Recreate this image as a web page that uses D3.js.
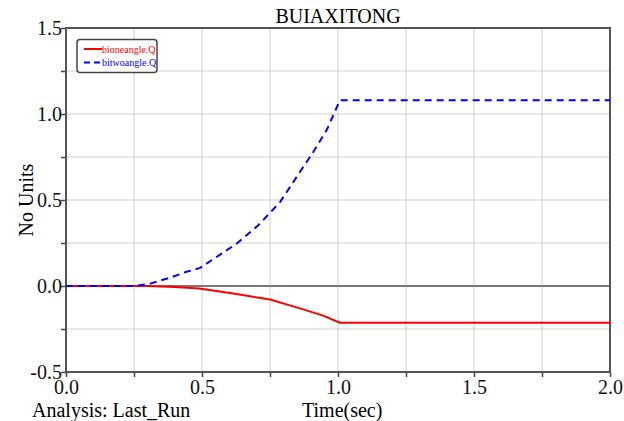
<!DOCTYPE html>
<html>
<head>
<meta charset="utf-8">
<script src="https://cdn.jsdelivr.net/npm/d3@7"></script>
<style>
  body { margin: 0; background: #fff; }
  svg text { font-family: "Liberation Serif", "DejaVu Serif", serif; }
</style>
</head>
<body>
<script>
  // values
  const xTicks = [0, 0.5, 1.0, 1.5, 2.0];
  const yTicks = [-0.5, 0, 0.5, 1.0, 1.5];

  const oneTime = [0, 0.30, 0.40, 0.49, 0.615, 0.75, 0.86, 0.945, 1.007, 2.0];
  const oneVal  = [0, 0, -0.006, -0.015, -0.044, -0.079, -0.130, -0.172, -0.213, -0.213];

  const twoTime = [0, 0.25, 0.31, 0.39, 0.44, 0.493, 0.627, 0.707, 0.787, 0.86, 0.909, 0.958, 1.007, 2.0];
  const twoVal  = [0, 0, 0.014, 0.052, 0.081, 0.105, 0.246, 0.353, 0.488, 0.663, 0.779, 0.905, 1.08, 1.08];

  const seriesNames = ['bioneangle.Q', 'bitwoangle.Q'];

  const w = 624, h = 421;
  const pLeft = 66, pRight = 610, pTop = 28, pBottom = 372;

  const x = d3.scaleLinear().domain([0, 2]).range([pLeft, pRight]);
  const y = d3.scaleLinear().domain([-0.5, 1.5]).range([pBottom, pTop]);

  const svg = d3.select('body').append('svg')
    .attr('width', w).attr('height', h);

  // grid
  const grid = d3.range(0, 2.001, 0.25);
  const gridY = d3.range(-0.5, 1.501, 0.25);
  svg.append('g').selectAll('line').data(grid).enter().append('line')
    .attr('x1', d => x(d)).attr('x2', d => x(d))
    .attr('y1', pTop).attr('y2', pBottom)
    .attr('stroke', '#cfcfcf').attr('stroke-width', 1);
  svg.append('g').selectAll('line').data(gridY).enter().append('line')
    .attr('x1', pLeft).attr('x2', pRight)
    .attr('y1', d => y(d)).attr('y2', d => y(d))
    .attr('stroke', '#cfcfcf').attr('stroke-width', 1);

  // zero line
  svg.append('line')
    .attr('x1', pLeft).attr('x2', pRight)
    .attr('y1', y(0)).attr('y2', y(0))
    .attr('stroke', '#555').attr('stroke-width', 1.5);

  // axes
  const isMajor = (list, d) => list.some(v => Math.abs(v - d) < 1e-9);
  const xAxis = d3.axisBottom(x).tickValues(grid).tickSize(5)
    .tickFormat(d => isMajor(xTicks, d) ? d.toFixed(1) : '');
  const yAxis = d3.axisLeft(y).tickValues(gridY).tickSize(5)
    .tickFormat(d => isMajor(yTicks, d) ? d.toFixed(1) : '');

  svg.append('g').attr('class', 'x-axis')
    .attr('transform', `translate(0,${pBottom})`)
    .call(xAxis);
  svg.append('g').attr('class', 'y-axis')
    .attr('transform', `translate(${pLeft},0)`)
    .call(yAxis);

  d3.selectAll('.domain').remove();
  d3.selectAll('.tick line').attr('stroke', '#444').attr('stroke-width', 1.5);
  d3.selectAll('.tick text').attr('font-size', 20).attr('fill', '#111')
    .style('font-family', '"Liberation Serif", serif');
  d3.selectAll('.x-axis .tick text').attr('dy', '0.71em').attr('y', 8);
  d3.selectAll('.y-axis .tick text').attr('x', -4).attr('dy', '0.32em');

  // frame
  svg.append('rect')
    .attr('x', pLeft).attr('y', pTop)
    .attr('width', pRight - pLeft).attr('height', pBottom - pTop)
    .attr('fill', 'none').attr('stroke', '#555').attr('stroke-width', 2);

  // lines
  const line = d3.line().x(d => x(d[0])).y(d => y(d[1]));
  svg.append('path')
    .datum(oneTime.map((t, i) => [t, oneVal[i]]))
    .attr('d', line)
    .attr('fill', 'none').attr('stroke', '#ff0000').attr('stroke-width', 2);
  svg.append('path')
    .datum(twoTime.map((t, i) => [t, twoVal[i]]))
    .attr('d', line)
    .attr('fill', 'none').attr('stroke', '#0000ff').attr('stroke-width', 2)
    .attr('stroke-dasharray', '7,5');

  // title and labels
  svg.append('text')
    .attr('x', (pLeft + pRight) / 2).attr('y', 23)
    .attr('text-anchor', 'middle').attr('font-size', 20)
    .text('BUIAXITONG');

  svg.append('text')
    .attr('text-anchor', 'middle').attr('font-size', 20)
    .attr('transform', `translate(33, ${(pTop + pBottom) / 2})rotate(-90)`)
    .text('No Units');

  svg.append('text')
    .attr('x', 32).attr('y', 417).attr('font-size', 20)
    .text('Analysis: Last_Run');

  svg.append('text')
    .attr('x', 302).attr('y', 417).attr('font-size', 20)
    .text('Time(sec)');

  // legend
  const legend = svg.append('g');
  legend.append('rect')
    .attr('x', 77).attr('y', 39.5).attr('width', 80).attr('height', 33)
    .attr('rx', 3).attr('fill', '#fff')
    .attr('stroke', '#444').attr('stroke-width', 1.5);
  const legColors = ['#ff0000', '#0000ff'];
  seriesNames.forEach((name, i) => {
    const ly = 49 + i * 13.5;
    legend.append('line')
      .attr('x1', 84).attr('x2', 102).attr('y1', ly).attr('y2', ly)
      .attr('stroke', legColors[i]).attr('stroke-width', 2)
      .attr('stroke-dasharray', i === 1 ? '6,4' : null);
    legend.append('text')
      .attr('x', 102).attr('y', ly + 3.5).attr('font-size', 10)
      .attr('fill', legColors[i])
      .text(name);
  });
</script>
</body>
</html>
